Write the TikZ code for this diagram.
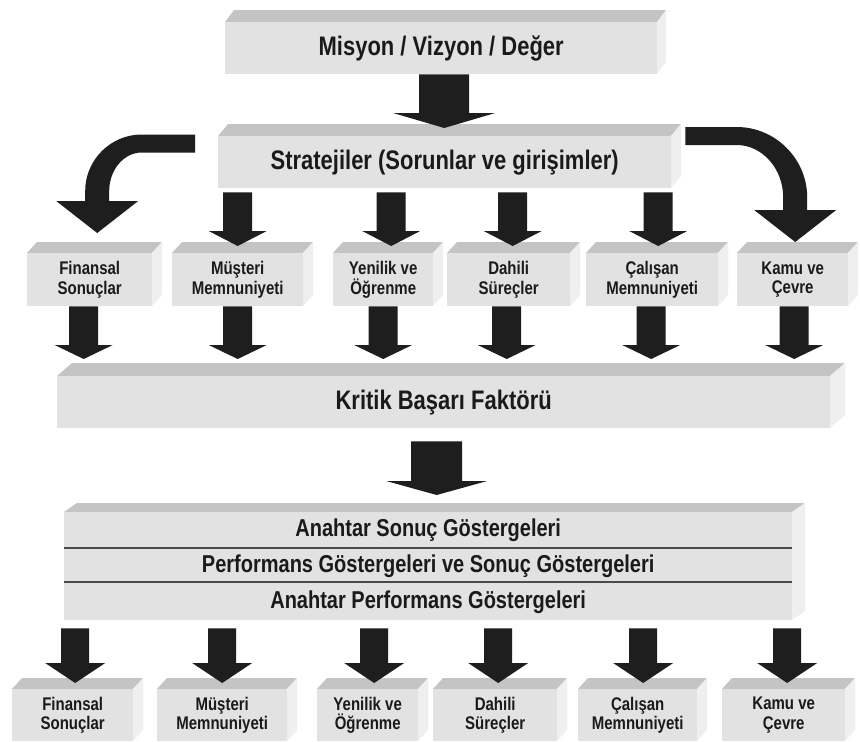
\documentclass[tikz,border=0pt]{standalone}
\usepackage{fontspec}
\setmainfont{Liberation Sans}
\newfontfamily\labelfont{Liberation Sans}[FakeStretch=0.82]
\usetikzlibrary{calc}

\definecolor{frontgray}{HTML}{E2E2E2}
\definecolor{topgray}{HTML}{C4C4C4}
\definecolor{sidegray}{HTML}{EFEFEF}
\definecolor{arrowblack}{HTML}{1E1E1E}
\definecolor{inkgray}{HTML}{1A1A1A}
\definecolor{rulegray}{HTML}{4A4A4A}

\tikzset{
  frontface/.style={fill=frontgray, draw=none, inner sep=0pt, align=center, text=inkgray},
  topface/.style={fill=topgray},
  sideface/.style={fill=sidegray},
  arrowfill/.style={fill=arrowblack},
  smalltext/.style={font=\labelfont\fontsize{18.3}{19.5}\selectfont\bfseries},
  bigtext/.style={font=\labelfont\fontsize{26.8}{30}\selectfont\bfseries},
  kpitext/.style={font=\labelfont\fontsize{24.4}{28}\selectfont\bfseries, text=inkgray, inner sep=0pt},
  kpirule/.style={draw=rulegray, line width=1.3pt},
}

% 3-D slab: front face is a named node, top and right faces are drawn behind it
% \cubebox{name}{x1}{y1}{x2}{y2}{dx}{dy}{style}{text}
\newcommand\cubebox[9]{%
  \fill[topface] (#2,#3) -- ({#2+#6},{#3-#7}) -- ({#4+#6},{#3-#7}) -- (#4,#3) -- cycle;
  \fill[sideface] (#4,#3) -- ({#4+#6},{#3-#7}) -- ({#4+#6},{#5-#7}) -- (#4,#5) -- cycle;
  \pgfmathsetmacro\cubeW{#4-#2}\pgfmathsetmacro\cubeH{#5-#3}
  \node[frontface,#8,anchor=north west,minimum width=\cubeW pt,minimum height=\cubeH pt] (#1) at (#2,#3) {#9};
}

% straight downward block arrow: start point, tip point, shaft half width, head half width, head length
\newcommand\blockarrow[5]{%
  \path #1; \pgfgetlastxy{\ArX}{\ArY}
  \pgfmathsetmacro\BAx{\ArX}\pgfmathsetmacro\BAy{-(\ArY)}
  \path #2; \pgfgetlastxy{\ArX}{\ArY}
  \pgfmathsetmacro\BTy{-(\ArY)}
  \fill[arrowfill] ({\BAx-#3},\BAy) -- ({\BAx+#3},\BAy) -- ({\BAx+#3},{\BTy-#5})
    -- ({\BAx+#4},{\BTy-#5}) -- (\BAx,\BTy) -- ({\BAx-#4},{\BTy-#5})
    -- ({\BAx-#3},{\BTy-#5}) -- cycle;
}

% bent block arrow: horizontal band from the start, turning down to the tip; #3 = +1 right, -1 left
\newcommand\bentarrow[3]{%
  \path #1; \pgfgetlastxy{\ArX}{\ArY}
  \pgfmathsetmacro\BSx{\ArX}\pgfmathsetmacro\BSy{-(\ArY)}
  \path #2; \pgfgetlastxy{\ArX}{\ArY}
  \pgfmathsetmacro\BTx{\ArX}\pgfmathsetmacro\BTy{-(\ArY)}
  \pgfmathsetmacro\Btop{\BSy-9}\pgfmathsetmacro\Bbot{\BSy+9}
  \pgfmathsetmacro\Bhb{\BTy-32}
  \pgfmathsetmacro\Bxo{\BTx+#3*12}\pgfmathsetmacro\Bxi{\BTx-#3*12}
  \pgfmathsetmacro\BR{0.85*(\Bhb-\Btop)}
  \pgfmathsetmacro\Bxa{\Bxo-#3*\BR}
  \pgfmathsetmacro\Bye{\Btop+\BR}
  \pgfmathsetmacro\Bca{\Bxa+0.55*(\Bxo-\Bxa)}
  \pgfmathsetmacro\Bcb{\Bye-0.55*\BR}
  \pgfmathsetmacro\Bcc{\Bye-0.55*(\Bye-\Bbot)}
  \pgfmathsetmacro\Bcd{\Bxa+0.55*(\Bxi-\Bxa)}
  \pgfmathsetmacro\Bhl{\BTx+#3*41}\pgfmathsetmacro\Bhr{\BTx-#3*41}
  \fill[arrowfill] (\BSx,\Btop) -- (\Bxa,\Btop)
     .. controls (\Bca,\Btop) and (\Bxo,\Bcb) .. (\Bxo,\Bye)
     -- (\Bxo,\Bhb) -- (\Bhl,\Bhb) -- (\BTx,\BTy) -- (\Bhr,\Bhb) -- (\Bxi,\Bhb) -- (\Bxi,\Bye)
     .. controls (\Bxi,\Bcc) and (\Bcd,\Bbot) .. (\Bxa,\Bbot)
     -- (\BSx,\Bbot) -- cycle;
}

\begin{document}
\begin{tikzpicture}[x=1pt,y=-1pt]
\useasboundingbox[fill=white] (0,0) rectangle (860,742);

% main chain
\cubebox{mission}{225}{22}{657}{74}{9}{12}{bigtext}{Misyon / Vizyon / Değer}
\cubebox{strat}{218}{136}{671}{188}{10}{12}{bigtext}{Stratejiler (Sorunlar ve girişimler)}

% perspectives, upper row
\cubebox{fin1}{27}{253}{152}{306}{10}{11}{smalltext}{Finansal\\Sonuçlar}
\cubebox{mus1}{172}{253}{303}{306}{10}{11}{smalltext}{Müşteri\\Memnuniyeti}
\cubebox{yen1}{333}{253}{433}{306}{10}{11}{smalltext}{Yenilik ve\\Öğrenme}
\cubebox{dah1}{447}{253}{570}{306}{10}{11}{smalltext}{Dahili\\Süreçler}
\cubebox{cal1}{586}{253}{718}{306}{10}{11}{smalltext}{Çalışan\\Memnuniyeti}
\cubebox{kam1}{737}{253}{848}{306}{10}{11}{smalltext}{Kamu ve\\Çevre}

\cubebox{krit}{57}{376}{830}{428}{15}{13}{bigtext}{Kritik Başarı Faktörü}

% indicator slab with three bands
\cubebox{kpi}{64}{512}{792}{620}{13}{9}{}{}
\draw[kpirule] ($(kpi.north west)+(0,36)$) -- ($(kpi.north east)+(0,36)$);
\draw[kpirule] ($(kpi.north west)+(0,70)$) -- ($(kpi.north east)+(0,70)$);
\node[kpitext] (ksg) at ($(kpi.north)+(0,18)$) {Anahtar Sonuç Göstergeleri};
\node[kpitext] (psg) at ($(kpi.north)+(0,54)$) {Performans Göstergeleri ve Sonuç Göstergeleri};
\node[kpitext] (apg) at ($(kpi.north)+(0,90)$) {Anahtar Performans Göstergeleri};

% perspectives, lower row
\cubebox{fin2}{12}{689}{133}{741}{10}{11}{smalltext}{Finansal\\Sonuçlar}
\cubebox{mus2}{157}{689}{287}{741}{10}{11}{smalltext}{Müşteri\\Memnuniyeti}
\cubebox{yen2}{317}{689}{418}{741}{10}{11}{smalltext}{Yenilik ve\\Öğrenme}
\cubebox{dah2}{433}{689}{557}{741}{10}{11}{smalltext}{Dahili\\Süreçler}
\cubebox{cal2}{578}{689}{697}{741}{10}{11}{smalltext}{Çalışan\\Memnuniyeti}
\cubebox{kam2}{722}{689}{845}{741}{10}{11}{smalltext}{Kamu ve\\Çevre}

% arrows
\blockarrow{($(mission.south)+(3,0)$)}{($(strat.north)+(0,-8)$)}{25}{51}{15}

\bentarrow{($(strat.north west)+(-23,7.5)$)}{($(fin1.north)+(7.5,-20)$)}{-1}
\bentarrow{($(strat.north east)+(14,0)$)}{($(kam1.north)+(2.5,-11)$)}{1}

\foreach \b/\o in {mus1/0,yen1/8,dah1/4,cal1/6}{
  \blockarrow{($(strat.south -| \b.north)+(\o,4)$)}{($(\b.north)+(0,-7)$)}{14.5}{29}{15}
}

\foreach \b/\o in {fin1/-6,mus1/0,yen1/0,dah1/-2,cal1/-1,kam1/1.5}{
  \blockarrow{($(\b.south)+(\o,0)$)}{($(\b.south |- krit.north)+(0,-17)$)}{14.5}{29}{14}
}

\blockarrow{($(krit.south)+(-7,13)$)}{($(kpi.north)+(0,-17)$)}{25.5}{50.5}{14}

\foreach \b/\o in {fin2/2.5,mus2/0,yen2/6.5,dah2/3,cal2/5.5,kam2/3.5}{
  \blockarrow{($(kpi.south -| \b.north)+(\o,8)$)}{($(\b.north)+(0,-6)$)}{14}{30}{20}
}
\end{tikzpicture}
\end{document}
